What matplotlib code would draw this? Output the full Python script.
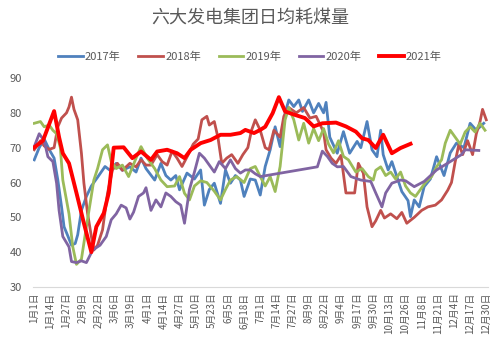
import matplotlib
matplotlib.use("Agg")
import matplotlib.pyplot as plt
import pandas as pd

plt.rcParams['font.family'] = ['Noto Sans CJK SC', 'DejaVu Sans']

# days since Jan 1 and daily coal consumption (10k t)
days_2017 = [0, 4, 8, 12, 16, 19, 22, 24, 27, 30, 33, 35, 38, 42, 46, 51, 57, 61, 66, 71,
             77, 82, 86, 90, 97, 102, 106, 110, 114, 117, 123, 129, 134, 137, 141, 145, 150,
             154, 158, 162, 166, 169, 174, 178, 182, 186, 190, 194, 198, 202, 205, 209, 213,
             216, 221, 225, 229, 233, 235, 238, 244, 249, 254, 260, 263, 268, 272, 276, 279,
             281, 285, 288, 292, 296, 301, 303, 306, 310, 314, 319, 324, 330, 335, 340, 346,
             351, 356, 362]
vals_2017 = [66.5, 70, 72.5, 69.5, 67, 60.7, 53, 47.3, 44.7, 42, 42.5, 45, 52, 56, 59, 61.5,
             64.6, 63.5, 65.5, 63.5, 64.5, 63, 67, 64, 60.7, 65.5, 62, 60.7, 62, 57.9, 62.7,
             61, 63.6, 53.5, 58, 59.8, 54, 63.6, 59.8, 62, 60.7, 56, 61, 60.7, 56.4, 64.6,
             69.4, 76, 70.3, 79.9, 83.7, 81.8, 83.7, 80.4, 83.7, 80, 82.7, 80, 83, 73, 68.4,
             74.6, 68.4, 71.8, 70, 77.5, 69.4, 67.4, 75, 68, 63.6, 66, 61.7, 57.4, 54.8, 50.2,
             55, 53, 58.8, 61, 67.4, 62, 68.5, 71.3, 70, 77, 75, 77]

days_2018 = [0, 5, 8, 12, 16, 19, 22, 26, 28, 30, 32, 35, 38, 40, 43, 46, 48, 51, 55, 59,
             63, 67, 71, 77, 82, 86, 90, 94, 99, 103, 107, 111, 115, 119, 124, 128, 132, 135,
             139, 141, 145, 148, 151, 155, 159, 164, 168, 172, 175, 178, 182, 186, 189, 193,
             198, 201, 205, 211, 217, 222, 227, 233, 235, 239, 243, 247, 251, 258, 261, 265,
             268, 272, 275, 279, 282, 287, 292, 296, 300, 306, 312, 317, 323, 328, 333, 336,
             339, 342, 345, 349, 353, 356, 359, 361, 364]
vals_2018 = [69.4, 72, 70.5, 69.5, 70, 76, 78.5, 80, 81.7, 84.5, 81, 78, 68.4, 59.8, 51,
             44.5, 40.6, 42, 46.4, 56.9, 63.6, 65.5, 63.5, 65.5, 64.5, 66.5, 65, 65, 68, 66,
             65, 69, 67, 64.6, 68, 71, 72.5, 78, 79, 76.5, 77.5, 72.8, 65.5, 67, 68, 65.5,
             68, 70, 75, 78, 75, 70, 69.4, 75, 73, 79, 81.5, 80, 81.5, 78.5, 79, 74.5, 69.4,
             67, 65.5, 67.8, 57, 57, 65.5, 62.7, 53, 47.3, 49, 52, 49.8, 51, 49.6, 51.4, 48.3,
             50, 52, 53, 53.5, 55, 57.8, 60, 66, 71, 68, 72, 68, 74, 77.5, 81, 78]

days_2019 = [0, 5, 8, 12, 15, 18, 21, 23, 28, 31, 34, 38, 42, 45, 48, 51, 55, 59, 62, 66,
             71, 76, 82, 86, 91, 97, 102, 107, 113, 117, 121, 125, 129, 134, 139, 145, 150,
             154, 158, 163, 169, 174, 178, 182, 186, 190, 194, 198, 202, 205, 209, 213, 217,
             221, 225, 229, 233, 237, 241, 245, 249, 253, 259, 264, 269, 273, 275, 279, 283,
             287, 291, 295, 299, 303, 307, 311, 315, 320, 324, 328, 331, 335, 339, 343, 347,
             351, 355, 359, 363]
vals_2019 = [77, 77.5, 76, 76.5, 75, 74, 70, 60.7, 51, 41.6, 36.5, 38, 47.3, 54, 60.7, 64,
             69.4, 70.8, 66, 64, 65, 61.7, 67, 70.3, 67, 64, 60.7, 58.8, 59, 61.7, 56.9, 55,
             59, 60.5, 60, 57.5, 55, 58, 60.7, 61.7, 60, 64, 64.6, 61.7, 59, 61.7, 57.4, 64.6,
             78, 81.5, 78, 72.2, 77, 71.3, 75.5, 72, 75.5, 71, 68.5, 72, 67.5, 66.5, 63, 64,
             61.7, 60.7, 63.5, 64.5, 62, 63, 61, 63, 59, 57, 56, 58, 60, 61.7, 64.5, 66.5,
             71.3, 75, 73, 71, 74.5, 76, 74.5, 77, 75]

days_2020 = [0, 4, 8, 11, 15, 18, 20, 23, 28, 30, 34, 38, 42, 47, 53, 58, 62, 66, 70, 74,
             77, 80, 84, 88, 90, 94, 98, 102, 106, 110, 114, 118, 121, 125, 129, 133, 137,
             141, 145, 149, 154, 158, 162, 166, 170, 174, 178, 182, 228, 232, 236, 240, 244,
             249, 255, 263, 271, 275, 280, 283, 288, 295, 299, 306, 314, 324, 335, 344, 347,
             358]
vals_2020 = [70.3, 74, 72, 67.4, 66, 59.8, 52, 44.5, 41.5, 37.3, 37, 37.5, 37, 40.6, 42,
             44.5, 49.3, 51, 53.5, 52.7, 49.5, 51.5, 56, 57, 58.5, 52, 55, 53, 57, 56, 54.5,
             53.5, 48.3, 58, 63, 68.4, 67, 65, 63, 66, 64, 66.5, 64, 62.7, 63.6, 63.6, 62.5,
             61.7, 64.5, 69, 67.5, 65.5, 64.5, 64.6, 61.7, 60.7, 60.3, 57, 53, 57, 59.8, 60.7,
             60.5, 58.8, 60.3, 63.6, 66, 68, 69.4, 69.2]

days_2021 = [0, 7, 16, 20, 23, 28, 34, 40, 46, 50, 56, 60, 64, 72, 79, 86, 94, 99, 107,
             115, 121, 126, 134, 142, 150, 158, 166, 170, 177, 182, 186, 192, 197, 202, 210,
             218, 225, 232, 243, 251, 259, 264, 269, 275, 281, 288, 295, 303]
vals_2021 = [70.1, 72, 80.5, 73, 68.4, 65.5, 57, 48.3, 40, 47.3, 51.2, 57, 70, 70.1, 67,
             68.9, 66.5, 68.9, 69.4, 68.4, 67, 69.4, 71.3, 72.2, 73.7, 73.7, 74.2, 75.1, 74.2,
             75.1, 76, 79.9, 84.5, 80.4, 79.4, 78.5, 76.1, 77, 77.2, 76.1, 74.6, 72.7, 72.2,
             69.9, 73.7, 68.4, 69.9, 71.1]

series = [
    ("2017年", days_2017, vals_2017, "#4F81BD", 2.0),
    ("2018年", days_2018, vals_2018, "#C0504D", 2.0),
    ("2019年", days_2019, vals_2019, "#9BBB59", 2.0),
    ("2020年", days_2020, vals_2020, "#8064A2", 2.0),
    ("2021年", days_2021, vals_2021, "#FF0000", 2.8),
]

base = pd.Timestamp("2020-01-01")
tick_dates = pd.date_range("2020-01-01", "2020-12-30", freq="13D")
tick_labels = [f"{d.month}月{d.day}日" for d in tick_dates]

fig = plt.figure(figsize=(5, 3.53), dpi=100)
ax = fig.add_axes([0.066, 0.187, 0.909, 0.592])

for name, days, vals, color, lw in series:
    x = base + pd.to_timedelta(days, unit="D")
    ax.plot(x, vals, color=color, lw=lw, label=name, solid_joinstyle="round")

ax.set_ylim(30, 90)
ax.set_yticks(range(30, 91, 10))
ax.set_xlim(base - pd.Timedelta(days=1), pd.Timestamp("2020-12-31"))
ax.set_xticks(tick_dates)
ax.set_xticklabels(tick_labels, rotation=90, fontsize=7, color="#595959")
ax.tick_params(axis="y", labelsize=8, labelcolor="#595959", length=0, pad=8)
ax.tick_params(axis="x", length=0, pad=4)

for side in ["top", "right", "left"]:
    ax.spines[side].set_visible(False)
ax.spines["bottom"].set_color("#D9D9D9")
ax.spines["bottom"].set_linewidth(0.8)

fig.text(0.5, 0.949, "六大发电集团日均耗煤量", ha="center", va="center",
         fontsize=13, color="#595959")
fig.legend(loc="center", bbox_to_anchor=(0.5, 0.839), ncol=5, frameon=False,
           fontsize=8, handlelength=2.2, handletextpad=0.2, columnspacing=1.6,
           labelcolor="#595959")

fig.savefig("out.png", dpi=100)
